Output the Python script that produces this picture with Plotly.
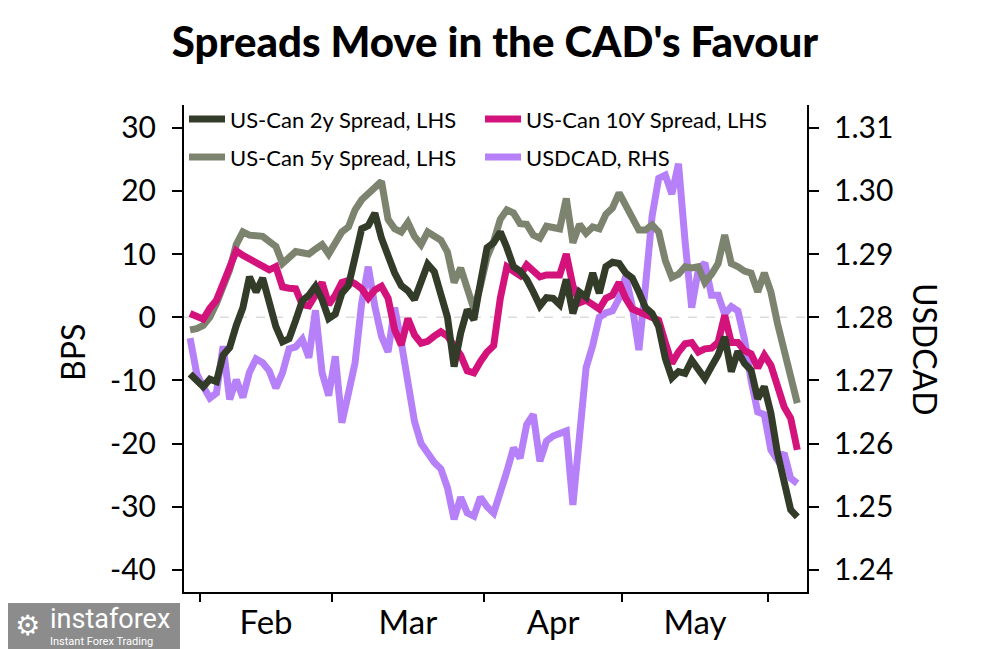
import plotly.graph_objects as go

# Business-day index of first observation (0 = 1 Feb)
first_bday = -2

us_can_2y = [-9, -10, -11, -9.8, -10.2, -6, -4.8, -1.3, 1.5, 6.4, 4, 6.2, 2.3, -1.5, -3.9, -3.4,
             -0.5, 2.6, 3.5, 4.9, 2.8, -0.2, 0.5, 3.8, 5, 9.8, 14, 14.5, 16.5, 12.5, 9.5, 7,
             5, 4.2, 2.8, 6, 8.4, 7.2, 3.5, 0, -7.8, -2.5, 1.2, -0.4, 5.5, 11, 11.8, 13.5,
             11, 8, 7.3, 6, 4, 1.8, 3.1, 3, 2, 6, 0.6, 4, 3.2, 7, 3.8, 8,
             8.7, 8.5, 7, 6.2, 4, 1.5, 0.6, -1.5, -6.5, -9.6, -8.6, -8.9, -6.8, -8.4, -9.7, -7.8,
             -6, -3.1, -8.6, -5.4, -7.3, -8.4, -12.9, -11, -15.2, -21.5, -25.8, -30.5, -31.6]

us_can_5y = [-2, -1.8, -1.3, 0, 2.2, 4.8, 7.5, 11.5, 13.5, 13, 12.9, 12.8, 12, 11.2, 8.5, 9.5,
             10.4, 10.2, 10, 10.8, 11.5, 10, 11.6, 13.5, 14.3, 17, 18.6, 19.5, 20.5, 21.5, 15.5, 14,
             13.5, 15, 12.8, 11.5, 13.5, 13, 12.2, 10.3, 5.5, 7.8, 4.5, 1.3, 5, 9.5, 12, 15.5,
             17, 16.5, 14.8, 14.7, 13, 12.5, 14.4, 14.2, 14, 18.8, 11.8, 14.7, 13.3, 14.3, 14, 16.3,
             17.3, 19.7, 17.6, 15.6, 13.8, 13.8, 14.6, 13.5, 9, 6.3, 6.8, 8, 7.8, 8, 5.5, 6.8,
             8.5, 13, 8.5, 8, 7.3, 7, 4, 7, 4, -1, -5, -10, -13.6]

us_can_10y = [0.6, 0, -0.3, 1.4, 2.7, 5.3, 8.2, 10.5, 9.8, 9.2, 8.7, 8.1, 7.5, 8, 4.8, 4.6,
              4.5, 2, 1.8, 3.5, 5.5, 2, 3.5, 5.5, 5.8, 5.3, 4.5, 3, 4.3, 4.9, 3, -2,
              -4.4, -0.2, -2.8, -4.1, -3.8, -3, -2.3, -3, -4.3, -6, -8.5, -8.8, -7, -5.5, -4.5, 3,
              8, 7.3, 6.6, 8.3, 7.3, 6.4, 6.7, 6.7, 6.7, 10, 5, 2.3, 2.7, 2, 1.3, 3,
              3.5, 5.5, 3, 1.3, 0.8, 0.3, 0.1, -0.5, -4, -7.3, -5.5, -4.2, -4, -5.5, -5, -4.9,
              -4, 0.3, -4, -4, -5.3, -5.8, -8, -6, -7.6, -11, -14.2, -16, -21]

usdcad = [1.2767, 1.2711, 1.2690, 1.2672, 1.2680, 1.2754, 1.2670, 1.2701, 1.2673, 1.2713, 1.2734, 1.2728,
          1.2715, 1.2688, 1.2712, 1.2750, 1.2753, 1.2765, 1.2736, 1.2811, 1.2712, 1.2676, 1.2738, 1.2633,
          1.2680, 1.2728, 1.2822, 1.2880, 1.2817, 1.2770, 1.2745, 1.2815, 1.2760, 1.2690, 1.2635, 1.2600,
          1.2585, 1.2570, 1.2560, 1.2530, 1.2480, 1.2515, 1.2490, 1.2485, 1.2515, 1.2500, 1.2490, 1.2520,
          1.2556, 1.2593, 1.2577, 1.2630, 1.2646, 1.2572, 1.2604, 1.2612, 1.2617, 1.2620, 1.2503, 1.2610,
          1.2720, 1.2755, 1.2800, 1.2807, 1.2810, 1.2830, 1.2865, 1.2817, 1.2748, 1.2850, 1.2960, 1.3020,
          1.3025, 1.2995, 1.3043, 1.2920, 1.2815, 1.2875, 1.2886, 1.2835, 1.2835, 1.2805, 1.2817, 1.2810,
          1.2765, 1.2700, 1.2650, 1.2646, 1.2590, 1.2574, 1.2585, 1.2545, 1.2537]

month_labels = ["Feb", "Mar", "Apr", "May"]
month_bounds = [-0.5, 19.5, 42.5, 63.5, 85.5]
bps_ticks = [-40, -30, -20, -10, 0, 10, 20, 30]
bps_ticktext = ["-40", "-30", "-20", "-10", "0", "10", "20", "30"]
fx_ticks = [1.24, 1.25, 1.26, 1.27, 1.28, 1.29, 1.30, 1.31]
fx_ticktext = ["1.24", "1.25", "1.26", "1.27", "1.28", "1.29", "1.30", "1.31"]


def xs(series):
    return [first_bday + k for k in range(len(series))]


month_mids = [(month_bounds[i] + month_bounds[i + 1]) / 2 for i in range(len(month_labels))]

FONT = "Lato, 'Open Sans', sans-serif"
c_2y = "#333b29"
c_5y = "#7c846f"
c_10y = "#d3127b"
c_fx = "#b680f8"
LW = 7

fig = go.Figure()
fig.add_trace(go.Scatter(x=xs(usdcad), y=usdcad, name="USDCAD, RHS", mode="lines",
                         line=dict(color=c_fx, width=LW), yaxis="y", legend="legend2", legendrank=2))
fig.add_trace(go.Scatter(x=xs(us_can_5y), y=us_can_5y, name="US-Can 5y Spread, LHS", mode="lines",
                         line=dict(color=c_5y, width=LW), yaxis="y2", legend="legend2", legendrank=1))
fig.add_trace(go.Scatter(x=xs(us_can_10y), y=us_can_10y, name="US-Can 10Y Spread, LHS", mode="lines",
                         line=dict(color=c_10y, width=LW), yaxis="y2", legend="legend", legendrank=2))
fig.add_trace(go.Scatter(x=xs(us_can_2y), y=us_can_2y, name="US-Can 2y Spread, LHS", mode="lines",
                         line=dict(color=c_2y, width=LW), yaxis="y2", legend="legend", legendrank=1))

bps_range = [-43.5, 33.6]
fx_range = [1.28 + bps_range[0] / 1000, 1.28 + bps_range[1] / 1000]

fig.add_shape(type="line", xref="paper", x0=0, x1=1, yref="y2", y0=0, y1=0,
              line=dict(color="#dcdcdc", width=1.5, dash="dash"), layer="below")

leg_common = dict(orientation="h", x=0.0, xanchor="left", yanchor="middle",
                  entrywidth=245, entrywidthmode="pixels", bgcolor="rgba(0,0,0,0)",
                  font=dict(family=FONT, size=22, color="black"), traceorder="normal",
                  itemwidth=36)

# The page body adds an 8 px offset, so the figure is 8 px smaller each way.
fig.update_layout(
    width=993, height=641,
    margin=dict(l=176, r=194, t=97, b=57, autoexpand=False),
    paper_bgcolor="white", plot_bgcolor="white",
    font=dict(family=FONT, color="black"),
    showlegend=True,
    legend=dict(y=0.971, **leg_common),
    legend2=dict(y=0.893, **leg_common),
    title=dict(text="Spreads Move in the CAD's Favour", x=0.4904, xanchor="center",
               y=0.947, yanchor="middle",
               font=dict(family=FONT, size=42, color="black", weight=900)),
    xaxis=dict(range=[-2.92, 91.47], showgrid=False, zeroline=False, automargin=False,
               showline=True, linecolor="black", linewidth=2,
               tickmode="array", tickvals=month_mids, ticktext=month_labels, ticks="",
               tickfont=dict(family=FONT, size=33, color="black"), ticklabelstandoff=0,
               minor=dict(tickmode="array", tickvals=month_bounds, ticks="outside",
                          ticklen=8, tickwidth=1.5, tickcolor="black")),
    yaxis=dict(range=fx_range, side="right", showgrid=False, zeroline=False, automargin=False,
               showline=True, linecolor="black", linewidth=2,
               tickmode="array", tickvals=fx_ticks, ticktext=fx_ticktext,
               ticks="outside", ticklen=10, tickwidth=1.5, tickcolor="black",
               ticklabelstandoff=9,
               tickfont=dict(family=FONT, size=30, color="black")),
    yaxis2=dict(range=bps_range, side="left", overlaying="y", showgrid=False, zeroline=False,
                automargin=False,
                showline=True, linecolor="black", linewidth=2,
                tickmode="array", tickvals=bps_ticks, ticktext=bps_ticktext,
                ticks="outside", ticklen=10, tickwidth=1.5, tickcolor="black",
                ticklabelstandoff=10,
                tickfont=dict(family=FONT, size=30, color="black")),
)

fig.add_annotation(text="BPS", xref="paper", yref="paper", x=-0.1798, y=0.4928,
                   textangle=-90, showarrow=False, xanchor="center", yanchor="middle",
                   font=dict(family=FONT, size=32, color="black"))
fig.add_annotation(text="USDCAD", xref="paper", yref="paper", x=1.1894, y=0.497,
                   textangle=90, showarrow=False, xanchor="center", yanchor="middle",
                   font=dict(family=FONT, size=32, color="black"))

# watermark badge
fig.add_shape(type="rect", xref="paper", yref="paper", x0=-0.2953, x1=-0.0064, y0=-0.117, y1=-0.0226,
              fillcolor="#8c8c8c", line=dict(width=0), layer="above")
fig.add_annotation(text="⚙", xref="paper", yref="paper", x=-0.2520, y=-0.068, showarrow=False,
                   xanchor="center", yanchor="middle", font=dict(family="DejaVu Sans", size=28, color="white"))
fig.add_annotation(text="instaforex", xref="paper", yref="paper", x=-0.2183, y=-0.056, showarrow=False,
                   xanchor="left", yanchor="middle",
                   font=dict(family="'Liberation Sans Narrow', Roboto, sans-serif", size=27, color="white"))
fig.add_annotation(text="Instant Forex Trading", xref="paper", yref="paper", x=-0.2183, y=-0.101,
                   showarrow=False, xanchor="left", yanchor="middle",
                   font=dict(family="'Liberation Sans Narrow', Roboto, sans-serif", size=11, color="white"))

fig.write_html("out.html")
